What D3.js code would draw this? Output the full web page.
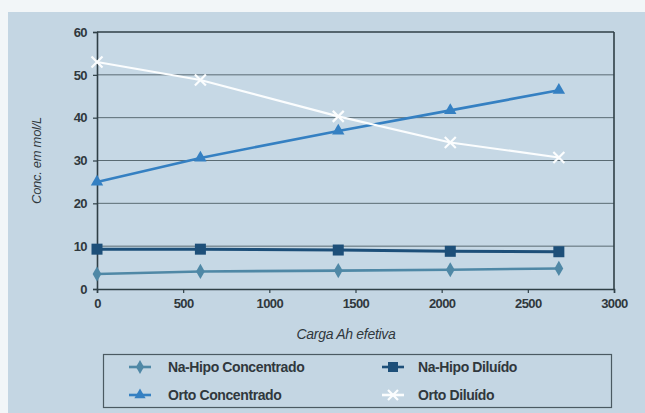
<!DOCTYPE html>
<html>
<head>
<meta charset="utf-8">
<script src="https://cdn.jsdelivr.net/npm/d3@7/dist/d3.min.js"></script>
<style>
  html, body { margin: 0; padding: 0; background: #f2f6f8; }
  svg { display: block; }
  text { font-family: "Liberation Sans", Arial, sans-serif; }
</style>
</head>
<body>
<svg id="chart" width="645" height="413"></svg>
<script>
// Carga Ah efetiva (x) for each sample
const carga = [0, 600, 1400, 2050, 2680];

// Concentrations in mol/L
const naHipoConcentrado = [3.5, 4.1, 4.3, 4.5, 4.8];
const naHipoDiluido     = [9.3, 9.3, 9.1, 8.8, 8.7];
const ortoConcentrado   = [25, 30.6, 36.9, 41.7, 46.4];
const ortoDiluido       = [53, 48.8, 40.3, 34.2, 30.7];

const seriesNames = ["Na-Hipo Concentrado", "Na-Hipo Diluído", "Orto Concentrado", "Orto Diluído"];

const xTicks = [0, 500, 1000, 1500, 2000, 2500, 3000];
const yTicks = [0, 10, 20, 30, 40, 50, 60];

const xTitle = "Carga Ah efetiva";
const yTitle = "Conc. em mol/L";

const series = [
  { name: seriesNames[0], values: naHipoConcentrado, color: "#4f88a6", shape: "diamond" },
  { name: seriesNames[1], values: naHipoDiluido,     color: "#1d4f79", shape: "square" },
  { name: seriesNames[2], values: ortoConcentrado,   color: "#3580c2", shape: "triangle" },
  { name: seriesNames[3], values: ortoDiluido,       color: "#fbfdfe", shape: "cross" }
];

const svg = d3.select("#chart");

// Outer panel
svg.append("rect").attr("x", 8).attr("y", 12).attr("width", 637).attr("height", 401)
  .attr("fill", "#c4d6e3");

const plot = { left: 97, right: 614, top: 32, bottom: 289 };

const x = d3.scaleLinear().domain([0, 3000]).range([plot.left, plot.right]);
const y = d3.scaleLinear().domain([0, 60]).range([plot.bottom, plot.top]);

// Plot area background
svg.append("rect")
  .attr("x", plot.left).attr("y", plot.top)
  .attr("width", plot.right - plot.left).attr("height", plot.bottom - plot.top)
  .attr("fill", "#c6d8e5");

// Horizontal gridlines
svg.append("g")
  .selectAll("line")
  .data(yTicks.filter(d => d > 0))
  .join("line")
  .attr("x1", plot.left).attr("x2", plot.right)
  .attr("y1", d => y(d)).attr("y2", d => y(d))
  .attr("stroke", d => d === 60 ? "#2f3f46" : "#5a6b73")
  .attr("stroke-width", d => d === 60 ? 1.6 : 1);

// Right border
svg.append("line")
  .attr("x1", plot.right).attr("x2", plot.right)
  .attr("y1", plot.top).attr("y2", plot.bottom)
  .attr("stroke", "#2f3f46").attr("stroke-width", 1.6);

// Axes
const xAxis = svg.append("g")
  .attr("transform", `translate(0,${plot.bottom})`)
  .call(d3.axisBottom(x).tickValues(xTicks).tickSize(4).tickPadding(6).tickFormat(d3.format("d")));
const yAxis = svg.append("g")
  .attr("transform", `translate(${plot.left},0)`)
  .call(d3.axisLeft(y).tickValues(yTicks).tickSize(4).tickPadding(6).tickFormat(d3.format("d")));

[xAxis, yAxis].forEach(a => {
  a.select(".domain").attr("stroke", "#2f3f46").attr("stroke-width", 1.6);
  a.selectAll(".tick line").attr("stroke", "#2f3f46").attr("stroke-width", 1.2);
  a.selectAll(".tick text")
    .attr("fill", "#30383d")
    .attr("font-size", 13)
    .attr("font-weight", "bold")
    .attr("letter-spacing", -0.6)
    .style("font-family", "'Liberation Sans', Arial, sans-serif");
});

// Axis titles
svg.append("text")
  .attr("x", 346).attr("y", 339)
  .attr("text-anchor", "middle")
  .attr("font-style", "italic").attr("font-size", 14).attr("fill", "#30383d")
  .attr("letter-spacing", -0.3)
  .text(xTitle);
svg.append("text")
  .attr("transform", `translate(41,${(plot.top + plot.bottom) / 2}) rotate(-90)`)
  .attr("text-anchor", "middle")
  .attr("font-style", "italic").attr("font-size", 13).attr("fill", "#30383d")
  .attr("letter-spacing", -0.3)
  .text(yTitle);

// Marker drawing
function drawMarker(g, shape, color, size) {
  const s = size;
  if (shape === "diamond") {
    g.append("path").attr("d", d3.symbol(d3.symbolDiamond, s * s * 0.55)())
      .attr("fill", color);
  } else if (shape === "square") {
    g.append("rect").attr("x", -s / 2).attr("y", -s / 2).attr("width", s).attr("height", s)
      .attr("fill", color);
  } else if (shape === "triangle") {
    g.append("path").attr("d", d3.symbol(d3.symbolTriangle, s * s * 0.55)())
      .attr("fill", color);
  } else if (shape === "cross") {
    const h = s / 2;
    g.append("path").attr("d", `M${-h},${-h}L${h},${h}M${-h},${h}L${h},${-h}`)
      .attr("stroke", color).attr("stroke-width", 2.2).attr("fill", "none");
  }
}

const line = d3.line().x((d, i) => x(carga[i])).y(d => y(d));

series.forEach(s => {
  const g = svg.append("g");
  g.append("path")
    .datum(s.values)
    .attr("d", line)
    .attr("fill", "none")
    .attr("stroke", s.color)
    .attr("stroke-width", s.shape === "cross" ? 2.2 : (s.shape === "square" ? 3 : 2.6));
  s.values.forEach((v, i) => {
    const m = g.append("g").attr("transform", `translate(${x(carga[i])},${y(v)})`);
    drawMarker(m, s.shape, s.color, 11);
  });
});

// Legend
const legend = svg.append("g");
legend.append("rect")
  .attr("x", 103.5).attr("y", 354.5).attr("width", 508).attr("height", 53)
  .attr("fill", "none").attr("stroke", "#4b5a62").attr("stroke-width", 1.2);

const legendPos = [
  { mx: 140, tx: 168, y: 367 },
  { mx: 393, tx: 418, y: 367 },
  { mx: 140, tx: 168, y: 395 },
  { mx: 393, tx: 418, y: 395 }
];
series.forEach((s, i) => {
  const p = legendPos[i];
  const g = legend.append("g");
  g.append("line")
    .attr("x1", p.mx - 11).attr("x2", p.mx + 11).attr("y1", p.y).attr("y2", p.y)
    .attr("stroke", s.color).attr("stroke-width", 2.6);
  const m = g.append("g").attr("transform", `translate(${p.mx},${p.y})`);
  drawMarker(m, s.shape, s.color, 10);
  g.append("text")
    .attr("x", p.tx).attr("y", p.y + 5)
    .attr("font-size", 14).attr("font-weight", "bold").attr("fill", "#30383d")
    .attr("letter-spacing", -0.4)
    .text(s.name);
});
</script>
</body>
</html>
